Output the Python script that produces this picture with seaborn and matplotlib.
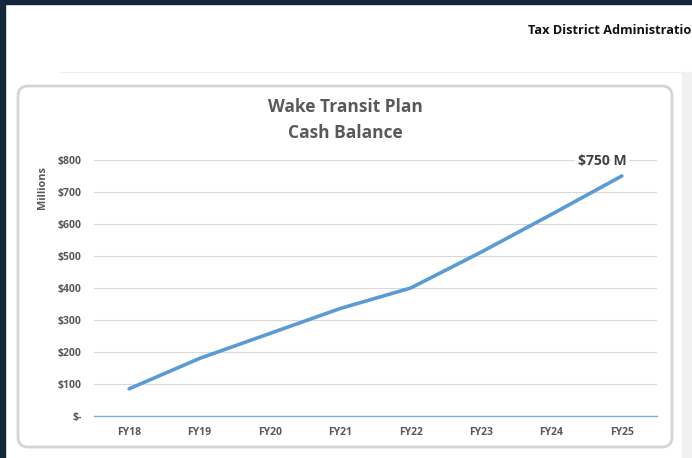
import matplotlib
matplotlib.use("Agg")
import matplotlib.pyplot as plt
from matplotlib.patches import Rectangle, FancyBboxPatch
import pandas as pd
import seaborn as sns

# data (millions of dollars)
years = ["FY18", "FY19", "FY20", "FY21", "FY22", "FY23", "FY24", "FY25"]
cash = [85, 180, 258, 336, 400, 512, 630, 750]
ytick_vals = [0, 100, 200, 300, 400, 500, 600, 700, 800]
ytick_labels = ["$-", "$100", "$200", "$300", "$400", "$500", "$600", "$700", "$800"]

df = pd.DataFrame({"Year": years, "Cash": cash})

sns.set_theme(style="white")
plt.rcParams["font.family"] = ["Open Sans", "DejaVu Sans"]

W, H = 692, 458
fig = plt.figure(figsize=(W / 100, H / 100), dpi=100)
fig.patch.set_facecolor("white")

# background layer in pixel coordinates
bg = fig.add_axes([0, 0, 1, 1], zorder=0)
bg.set_xlim(0, W)
bg.set_ylim(H, 0)
bg.axis("off")
navy = "#14273a"
bg.add_patch(Rectangle((0, 0), W, 4, color=navy))
bg.add_patch(Rectangle((0, 0), 5, H, color=navy))
bg.add_patch(Rectangle((682, 72), 10, H - 72, color="#f1f1f1"))
bg.plot([60, 682], [72, 72], color="#efefef", lw=0.8)
bg.add_patch(FancyBboxPatch((18, 86), 654, 361,
                            boxstyle="round,pad=0,rounding_size=10",
                            fc="white", ec="#d4d4d4", lw=2))
bg.text(528, 30, "Tax District Administration", fontsize=9.2, fontweight="bold",
        color="#111111", ha="left", va="center")
bg.text(345, 107, "Wake Transit Plan", fontsize=12.5, fontweight="bold",
        color="#595959", ha="center", va="center")
bg.text(345, 133, "Cash Balance", fontsize=12.5, fontweight="bold",
        color="#595959", ha="center", va="center")
bg.text(43, 188, "Millions", fontsize=7.8, fontweight="bold", color="#595959",
        rotation=90, ha="center", va="center")

# plot area
ax = fig.add_axes([94 / W, (H - 416) / H, (657 - 94) / W, 256 / H], zorder=1)
ax.patch.set_alpha(0)
sns.lineplot(data=df, x="Year", y="Cash", ax=ax, color="#5b9bd5", lw=2.6,
             sort=False, solid_capstyle="round", clip_on=False)
ax.set_xlim(-0.5, len(years) - 0.5)
ax.set_ylim(0, 800)
ax.set_yticks(ytick_vals)
ax.set_yticklabels(ytick_labels)
ax.set_xlabel("")
ax.set_ylabel("")
ax.yaxis.grid(True, color="#d9d9d9", lw=0.8)
ax.set_axisbelow(True)
for s in ["top", "right", "left"]:
    ax.spines[s].set_visible(False)
ax.spines["bottom"].set_color("#7eaee0")
ax.spines["bottom"].set_linewidth(1.0)
ax.tick_params(axis="both", length=0, labelsize=7.5, labelcolor="#595959")
ax.tick_params(axis="y", pad=9)
ax.tick_params(axis="x", pad=8)
for lab in ax.get_xticklabels() + ax.get_yticklabels():
    lab.set_fontweight("bold")

ax.annotate("$750 M", xy=(len(years) - 1, cash[-1]), xytext=(-14, 10.5),
            textcoords="offset points", ha="center", va="center",
            fontsize=10, fontweight="bold", color="#404040",
            bbox=dict(boxstyle="square,pad=0.25", fc="white", ec="none"))

fig.savefig("out.png", dpi=100)
